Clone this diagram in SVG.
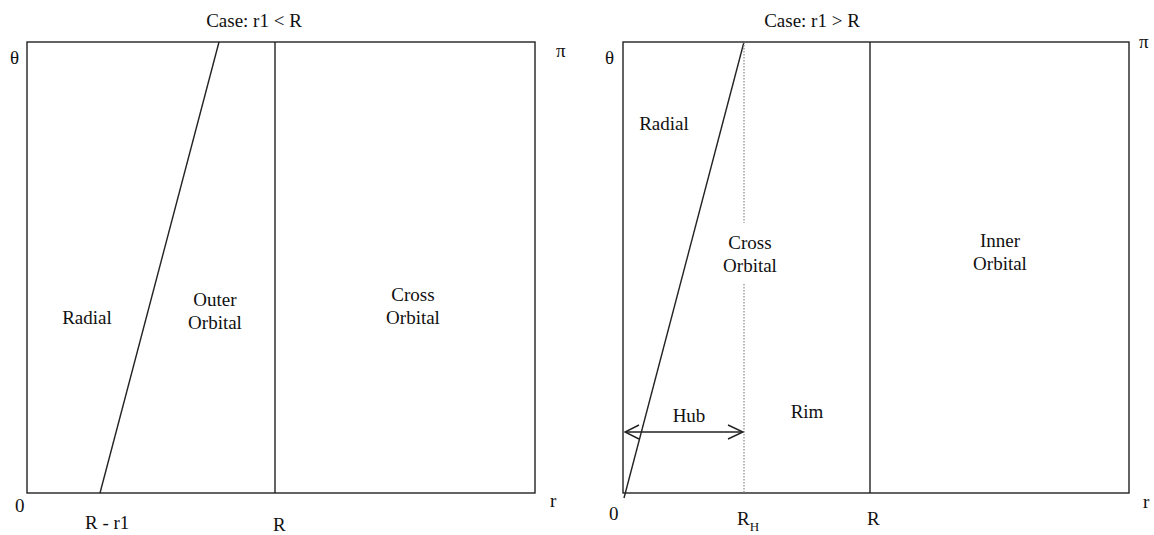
<svg xmlns="http://www.w3.org/2000/svg" width="1154" height="535" viewBox="0 0 1154 535">
<style>
text{font-family:"Liberation Serif","Times New Roman",serif;font-size:19px;fill:#111}
.c{text-anchor:middle}
.ln{stroke:#222;stroke-width:1.4;fill:none}
.dot{stroke:#888;stroke-width:1.2;stroke-dasharray:1.5,1.5;fill:none}
</style>
<rect width="1154" height="535" fill="#fff"/>
<g id="left-diagram">
<text class="c" x="254" y="27">Case: r1 &lt; R</text>
<rect class="ln" x="27" y="42" width="508" height="451"/>
<text x="10" y="64">θ</text>
<text x="556" y="57">π</text>
<text x="550" y="507">r</text>
<text x="15" y="512">0</text>
<text x="85" y="529">R - r1</text>
<text x="273" y="531">R</text>
<text class="c" x="87" y="324">Radial</text>
<text class="c" x="215" y="306">Outer</text>
<text class="c" x="215" y="329">Orbital</text>
<text class="c" x="413" y="301">Cross</text>
<text class="c" x="413" y="324">Orbital</text>
</g>
<g id="right-diagram">
<text class="c" x="812" y="27">Case: r1 &gt; R</text>
<rect class="ln" x="623" y="42" width="506" height="451"/>
<text x="605" y="64">θ</text>
<text x="1139" y="48">π</text>
<text x="1143" y="508">r</text>
<text x="609" y="520">0</text>
<text x="737" y="525">R<tspan font-size="13" dy="6">H</tspan></text>
<text x="867" y="525">R</text>
<text class="c" x="664" y="130">Radial</text>
<text class="c" x="750" y="249">Cross</text>
<text class="c" x="750" y="272">Orbital</text>
<text class="c" x="1000" y="247">Inner</text>
<text class="c" x="1000" y="270">Orbital</text>
<text class="c" x="689" y="422">Hub</text>
<text class="c" x="807" y="418">Rim</text>
</g>
<g id="connectors">
<line class="ln" x1="100" y1="493" x2="219" y2="42"/>
<line class="ln" x1="275" y1="42" x2="275" y2="493"/>
<line class="ln" x1="624" y1="498" x2="744" y2="42"/>
<line class="dot" x1="744" y1="42" x2="744" y2="223"/>
<line class="dot" x1="744" y1="284" x2="744" y2="493"/>
<line class="ln" x1="870" y1="42" x2="870" y2="493"/>
<line class="ln" x1="625" y1="432" x2="742" y2="432"/>
<polyline class="ln" points="639,425 625,432 639,439"/>
<polyline class="ln" points="728,425 743,432 728,439"/>
</g>
</svg>
